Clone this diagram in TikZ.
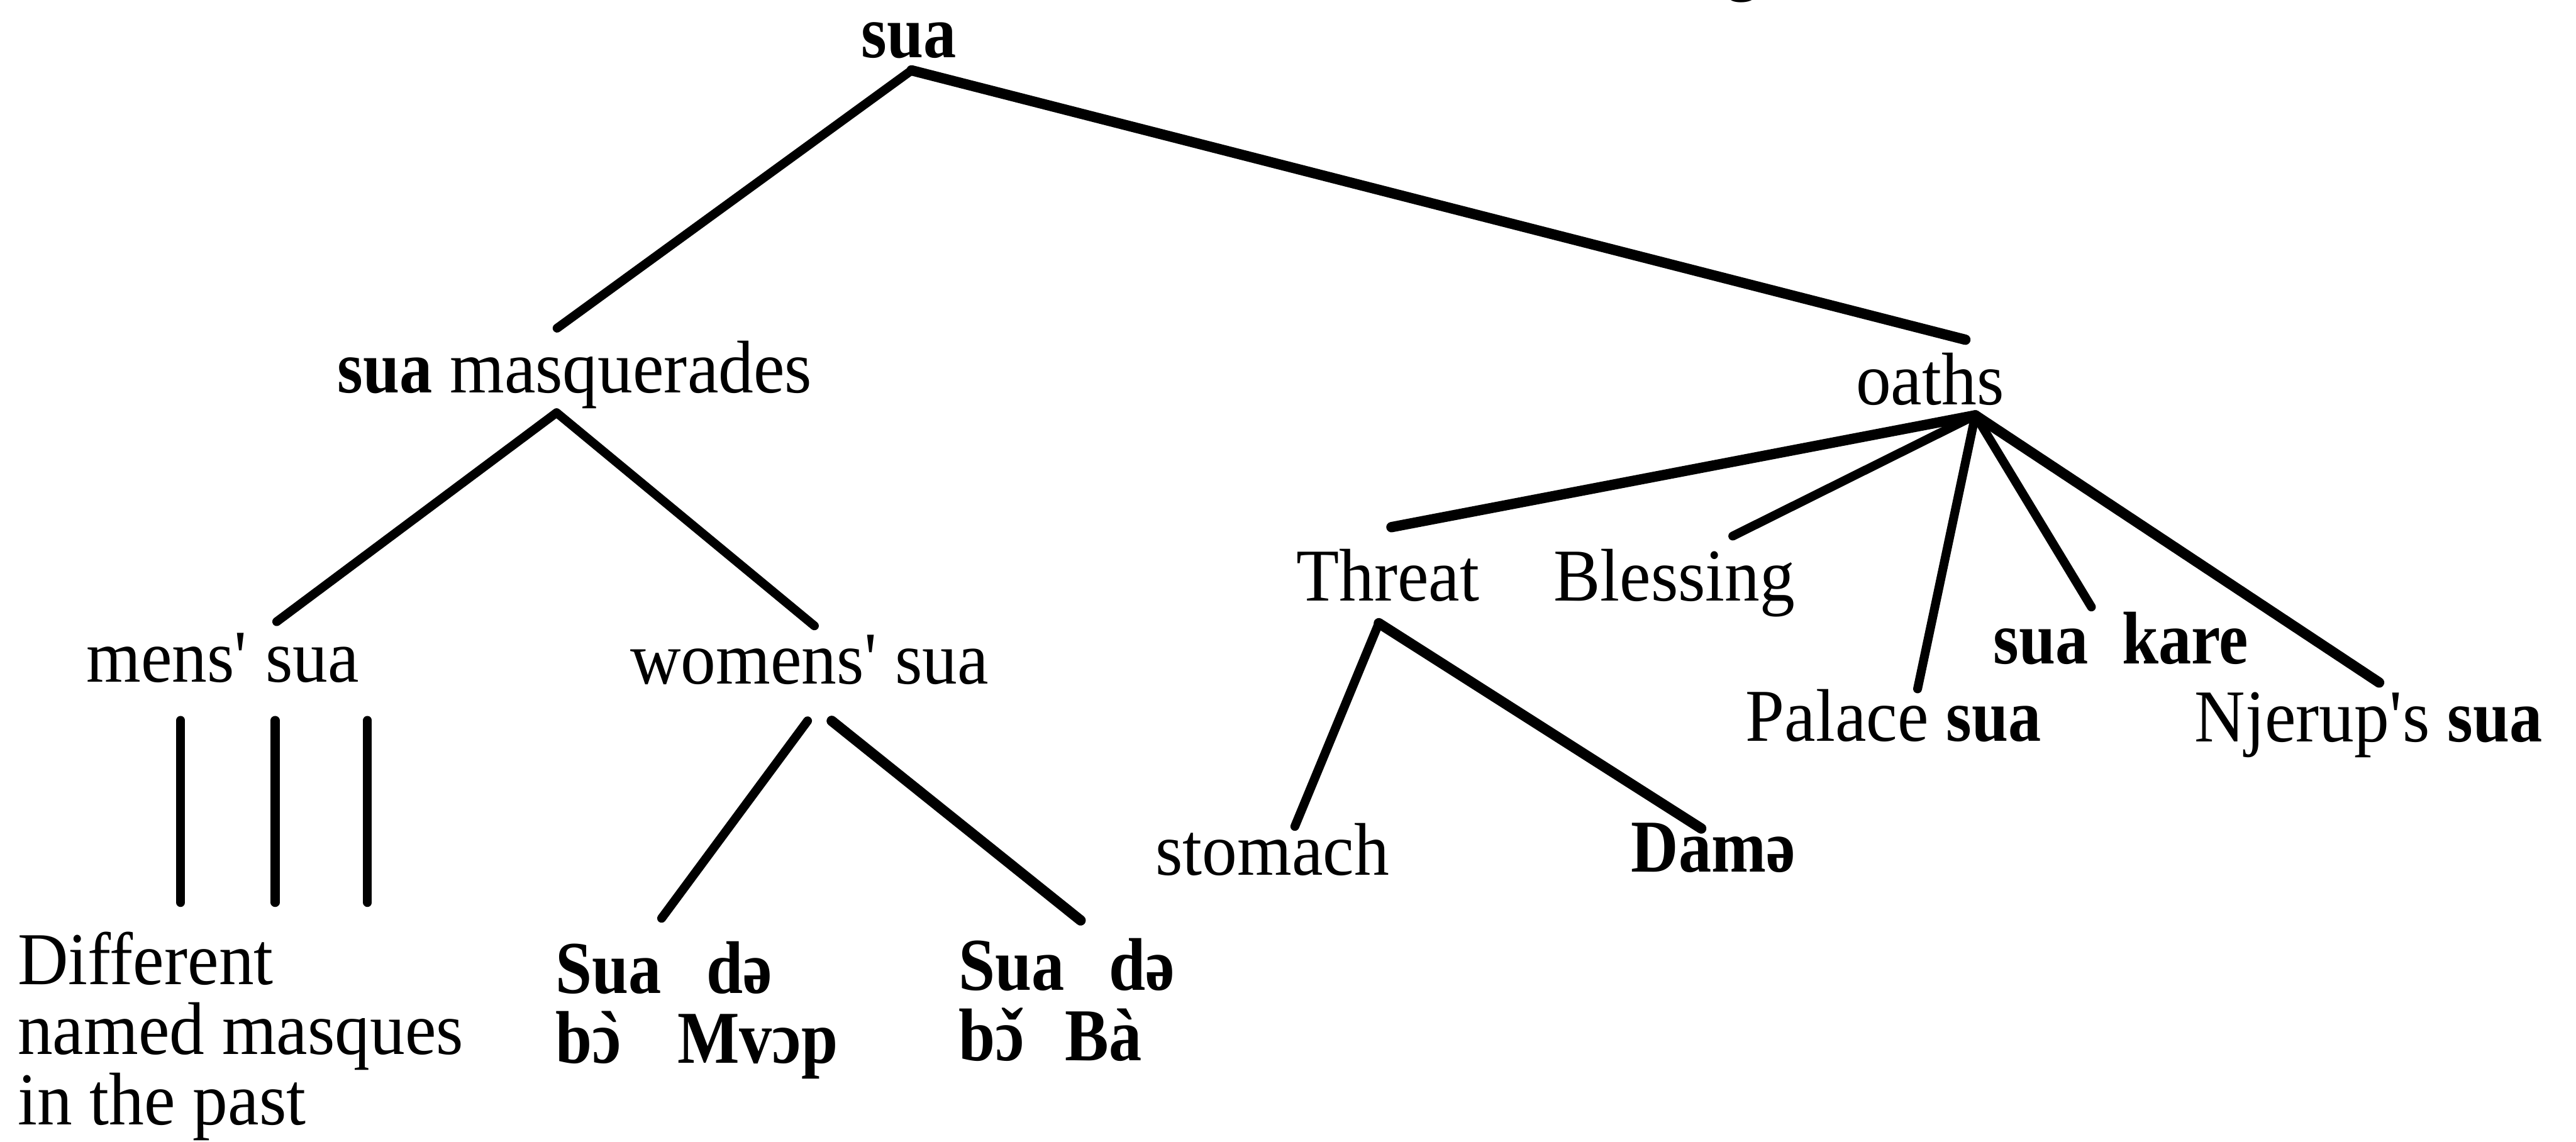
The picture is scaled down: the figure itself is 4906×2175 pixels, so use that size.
\documentclass[tikz,border=0pt]{standalone}
\usepackage{fontspec}
\setmainfont{Liberation Serif}[FakeStretch=0.94]
\newfontfamily\bsua{Liberation Serif Bold}[FakeStretch=0.88]
\newcommand{\bw}[1]{{\bsua #1}}
% tone mark set over a letter
\newcommand{\tonemark}[2]{\ooalign{#1\cr\hidewidth\kern0.08em#2\hidewidth\cr}}
\newcommand{\apos}{\textquotesingle}

\tikzset{
  lbl/.style={inner sep=0pt, anchor=base west,
    font=\fontsize{40.4pt}{38pt}\selectfont},
  blbl/.style={inner sep=0pt, anchor=base west,
    font=\fontsize{40.4pt}{38pt}\bsua},
  branch/.style={line width=4.8pt, line cap=round, line join=round},
  heavy/.style={branch, line width=5.6pt}
}

\begin{document}
\begin{tikzpicture}[x=0.01cm, y=-0.01cm]
\useasboundingbox (0,0) rectangle (4906,2175);

% tail of a letter from the line above
\node[lbl] (gfrag) at (3284,-26) {g};

% labels (multi-line labels are placed by their last baseline)
\node[blbl] (root) at (1640,110) {sua};
\node[lbl] (masq) at (642,748) {\bw{sua} masquerades};
\node[lbl] (oaths) at (3534,771) {oaths};
\node[lbl] (mens) at (164,1299) {mens\apos{} sua};
\node[lbl] (womens) at (1200,1303) {womens\apos{} sua};
\node[lbl] (threat) at (2468,1145) {Threat};
\node[lbl] (bless) at (2958,1144) {Blessing};
\node[blbl] (kare) at (3796,1264) {sua\hspace{0.45em}kare};
\node[lbl] (palace) at (3324,1411) {Palace \bw{sua}};
\node[lbl] (njerup) at (4179,1413) {Njerup\apos{}s \bw{sua}};
\node[lbl] (stomach) at (2200,1667) {stomach};
\node[blbl] (dame) at (3106,1661) {Damə};
\node[lbl, align=left] (past) at (33,2142) {Different\\named masques\\in the past};
\node[blbl, align=left] (mvop) at (1058,2025) {Sua\hspace{0.6em}də\\b\tonemark{ɔ}{ˋ}\hspace{0.75em}Mvɔp};
\node[blbl, align=left] (ba) at (1825,2020) {Sua\hspace{0.6em}də\\b\tonemark{ɔ}{ˇ}\hspace{0.55em}Bà};

% branch end points
\coordinate (root-s) at (1736,134);
\coordinate (masq-n) at (1061,625);
\coordinate (oaths-n) at (3743,647);
\coordinate (masq-s) at (1060,786);
\coordinate (mens-n) at (527,1184);
\coordinate (womens-n) at (1551,1192);
\coordinate (mens-s1) at (344,1372);
\coordinate (mens-s2) at (524,1372);
\coordinate (mens-s3) at (700,1372);
\coordinate (past-n1) at (344,1719);
\coordinate (past-n2) at (524,1719);
\coordinate (past-n3) at (700,1719);
\coordinate (womens-s1) at (1538,1373);
\coordinate (womens-s2) at (1584,1373);
\coordinate (mvop-n) at (1260,1749);
\coordinate (ba-n) at (2058,1753);
\coordinate (oaths-s) at (3762,791);
\coordinate (threat-n) at (2650,1004);
\coordinate (bless-n) at (3300,1021);
\coordinate (palace-n) at (3652,1312);
\coordinate (kare-n) at (3983,1156);
\coordinate (njerup-n) at (4531,1300);
\coordinate (threat-s) at (2626,1187);
\coordinate (stomach-n) at (2466,1574);
\coordinate (dame-n) at (3240,1578);

% branches
\draw[branch] (masq-n) -- (root-s);
\draw[heavy] (root-s) -- (oaths-n);
\draw[branch] (mens-n) -- (masq-s) -- (womens-n);
\draw[branch] (mens-s1) -- (past-n1);
\draw[branch] (mens-s2) -- (past-n2);
\draw[branch] (mens-s3) -- (past-n3);
\draw[branch] (womens-s1) -- (mvop-n);
\draw[heavy] (womens-s2) -- (ba-n);
\draw[heavy] (oaths-s) -- (threat-n);
\draw[branch] (oaths-s) -- (bless-n);
\draw[branch] (oaths-s) -- (palace-n);
\draw[branch] (oaths-s) -- (kare-n);
\draw[heavy] (oaths-s) -- (njerup-n);
\draw[branch] (stomach-n) -- (threat-s);
\draw[heavy] (threat-s) -- (dame-n);
\end{tikzpicture}
\end{document}
